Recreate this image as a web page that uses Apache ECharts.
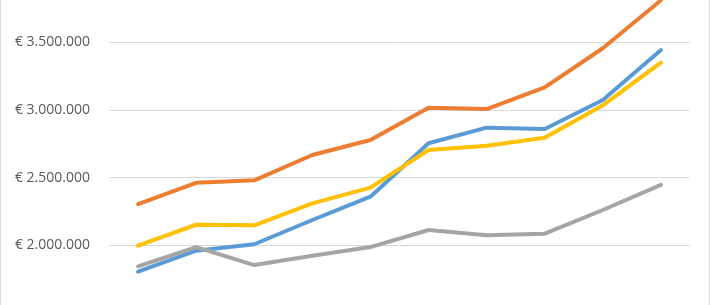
<!DOCTYPE html>
<html>
<head>
<meta charset="utf-8">
<script src="https://cdn.jsdelivr.net/npm/echarts@6/dist/echarts.min.js"></script>
<style>
  html, body { margin: 0; padding: 0; background: #fff; overflow: hidden; }
  #wrap { position: relative; width: 710px; height: 305px; overflow: hidden; background: #fff; }
  #chart { position: absolute; left: 0; top: -40px; width: 710px; height: 365px; }
  .bl { position: absolute; top: 0; width: 1px; height: 305px; background: #d9d9d9; }
</style>
</head>
<body>
<div id="wrap">
  <div id="chart"></div>
  <div class="bl" style="left:0"></div>
  <div class="bl" style="left:709px"></div>
</div>
<script>
const categories = ['1', '2', '3', '4', '5', '6', '7', '8', '9', '10'];
const seriesBlue = [1805000, 1960000, 2008000, 2187000, 2359000, 2754000, 2869000, 2859000, 3073000, 3443000];
const seriesOrange = [2305000, 2462000, 2480000, 2667000, 2778000, 3017000, 3007000, 3167000, 3456000, 3810000];
const seriesGray = [1845000, 1987000, 1854000, 1923000, 1987000, 2113000, 2074000, 2086000, 2261000, 2446000];
const seriesYellow = [1997000, 2152000, 2148000, 2310000, 2426000, 2704000, 2736000, 2795000, 3034000, 3349000];
const yMin = 1500000, yMax = 4000000, yStep = 500000;
const hiddenTicks = [1500000, 4000000];

function fmt(v) {
  if (hiddenTicks.indexOf(v) >= 0) return '';
  return '€ ' + String(Math.round(v)).replace(/\B(?=(\d{3})+(?!\d))/g, '.');
}

const chart = echarts.init(document.getElementById('chart'), null, { renderer: 'canvas' });
const mk = (name, data, color) => ({
  name, type: 'line', data, symbol: 'none', smooth: false,
  lineStyle: { color, width: 4, cap: 'round', join: 'round' },
  itemStyle: { color }
});
chart.setOption({
  animation: false,
  backgroundColor: '#fff',
  grid: { left: 109, right: 20, top: 14.6, bottom: 12, containLabel: false },
  xAxis: {
    type: 'category', data: categories, boundaryGap: true,
    axisLine: { show: false }, axisTick: { show: false }, axisLabel: { show: false },
    splitLine: { show: false }
  },
  yAxis: {
    type: 'value', min: yMin, max: yMax, interval: yStep,
    axisLine: { show: false }, axisTick: { show: false },
    axisLabel: { formatter: fmt, color: '#595959', fontSize: 14, fontFamily: 'Open Sans', margin: 19 },
    splitLine: { lineStyle: { color: '#d9d9d9', width: 1 } }
  },
  series: [
    mk('Blue', seriesBlue, '#5B9BD5'),
    mk('Orange', seriesOrange, '#ED7D31'),
    mk('Gray', seriesGray, '#A5A5A5'),
    mk('Yellow', seriesYellow, '#FFC000')
  ]
});
</script>
</body>
</html>
